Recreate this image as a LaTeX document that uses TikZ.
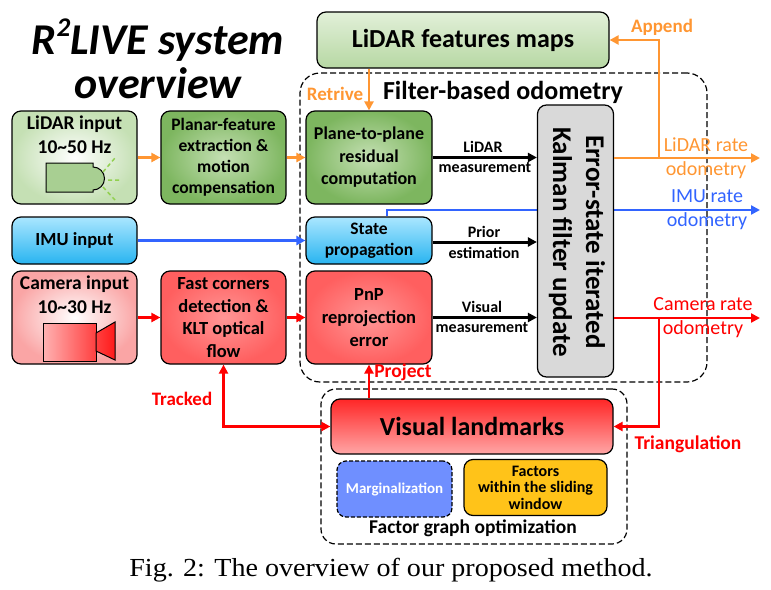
\documentclass[tikz,border=0pt]{standalone}
\usepackage{graphicx}
\usepackage{fontspec}
\setmainfont{Carlito}
\newfontfamily\capfont{Liberation Serif}
\usetikzlibrary{arrows.meta}
\definecolor{lorange}{RGB}{255,150,50}
\definecolor{lblue}{RGB}{50,100,255}
\definecolor{lred}{RGB}{255,0,0}
\definecolor{gnlight}{RGB}{226,240,217}
\definecolor{gnmid}{RGB}{197,224,180}
\definecolor{gndark}{RGB}{125,182,95}
\definecolor{bltop}{RGB}{170,230,255}
\definecolor{blbot}{RGB}{40,180,240}
\definecolor{rdlight}{RGB}{250,165,165}
\definecolor{rdmid}{RGB}{255,150,150}
\definecolor{rddark}{RGB}{255,95,95}
\definecolor{margblue}{RGB}{111,143,255}
\definecolor{facgold}{RGB}{255,195,25}
\definecolor{raygreen}{RGB}{146,208,80}
\newcommand{\setfs}[2]{\fontsize{#1}{#2}\selectfont}

\begin{document}
\begin{tikzpicture}[x=1pt,y=-1pt,
  box/.style={draw,line width=1.2pt,rounded corners=9pt,align=center,inner sep=0pt},
  dashbox/.style={draw,line width=1.2pt,dash pattern=on 6pt off 3pt},
  arr/.style={line width=2.4pt,-{Triangle[length=9pt,width=9pt]}},
  lab/.style={inner sep=0pt,align=center,font=\setfs{16}{21}\bfseries}]
\useasboundingbox (0,0) rectangle (771,589);

\node[font=\setfs{44}{39}\bfseries\itshape] (title1) at (158,40) {R\raisebox{0.42em}{\setfs{27}{27}2}LIVE system};
\node[font=\setfs{44}{39}\bfseries\itshape] (title2) at (158,83) {overview};

\node[dashbox,rounded corners=20pt,minimum width=407pt,minimum height=309pt] (filt) at (503.5,227.5) {};
\node[font=\setfs{26}{30}\bfseries] (filttxt) at (503,92) {Filter-based odometry};
\node[dashbox,rounded corners=15pt,minimum width=306pt,minimum height=155pt] (fgo) at (474,466.5) {};
\node[font=\setfs{19.5}{24}\bfseries] (fgotxt) at (473,528) {Factor graph optimization};

\node[box,minimum width=292pt,minimum height=56pt,top color=gnlight,bottom color=gnmid!80!gndark,font=\setfs{26}{30}\bfseries] (maps) at (463,40) {LiDAR features maps};
\node[box,minimum width=125pt,minimum height=93pt,inner color=white,outer color=gnmid] (lidin) at (74.5,157.5) {};
\node[box,minimum width=125pt,minimum height=93pt,inner color=gnmid,outer color=gndark,font=\setfs{17.5}{21}\bfseries] (planar) at (223.5,157.5) {Planar-feature\\extraction \&\\motion\\compensation};
\node[box,minimum width=126pt,minimum height=93pt,inner color=gnmid,outer color=gndark,font=\setfs{18}{22.5}\bfseries] (plane) at (369,157.5) {Plane-to-plane\\residual\\computation};
\node[box,minimum width=125pt,minimum height=47pt,top color=bltop,bottom color=blbot,font=\setfs{18.5}{22}\bfseries] (imuin) at (74.5,240.5) {IMU input};
\node[box,minimum width=126pt,minimum height=47pt,top color=bltop,bottom color=blbot,font=\setfs{17.5}{21}\bfseries] (state) at (369,240.5) {State\\propagation};
\node[box,minimum width=125pt,minimum height=93pt,inner color=white,outer color=rdlight] (camin) at (74.5,317.5) {};
\node[box,minimum width=125pt,minimum height=93pt,inner color=rdmid,outer color=rddark,font=\setfs{18.5}{22.5}\bfseries] (fast) at (223.5,317.5) {Fast corners\\detection \&\\KLT optical\\flow};
\node[box,minimum width=126pt,minimum height=93pt,inner color=rdmid,outer color=rddark,font=\setfs{18.5}{23}\bfseries] (pnp) at (369,317.5) {PnP\\reprojection\\error};
\node[box,minimum width=282pt,minimum height=55pt,top color=red!85,bottom color=red!35,font=\setfs{26}{30}\bfseries] (vlm) at (472,426.5) {Visual landmarks};
\node[box,dash pattern=on 4pt off 2pt,minimum width=115pt,minimum height=56pt,fill=margblue,text=white,font=\setfs{15}{18}\bfseries] (marg) at (394.5,489) {Marginalization};
\node[box,minimum width=143pt,minimum height=56pt,fill=facgold,font=\setfs{16}{16.5}\bfseries] (fac) at (535.5,487.5) {Factors\\within the sliding\\window};

\node[anchor=north,inner sep=0pt,align=center,font=\setfs{19.5}{24}\bfseries] (lidtxt) at (74.5,116) {LiDAR input\\10\char`~50 Hz};
\draw[line width=1pt,fill=gnmid!60!gndark] (46,163) -- (93,163) -- (93,167) arc[start angle=-90,end angle=90,radius=11.5] -- (93,192) -- (46,192) -- cycle;
\draw[line width=1.5pt,raygreen,dash pattern=on 4pt off 3pt] (103,172) -- (115,158) (108,180) -- (119,180) (103,187) -- (115,200);
\node[anchor=north,inner sep=0pt,align=center,font=\setfs{19.5}{24}\bfseries] (camtxt) at (74.5,276) {Camera input\\10\char`~30 Hz};
\draw[line width=1pt,left color=red!30,right color=red!75] (43,323) rectangle (96,361);
\draw[line width=1pt,left color=red!75,right color=red!90] (96,333) -- (115,322) -- (115,360) -- (96,351) -- cycle;

\coordinate (imuout) at (760,210);
\draw[line width=2.4pt,lblue,-{Triangle[length=9pt,width=9pt]}] ([xshift=18pt]state.north) -- ([xshift=18pt]state.north |- imuout) -- (imuout);
\node[box,minimum width=76pt,minimum height=272pt,fill=black!15] (ekf) at (575.5,241) {};
\node[rotate=-90,align=center,inner sep=0pt,font=\setfs{27}{33}\bfseries] (ekftxt) at (577,242) {Error-state iterated\\Kalman filter update};

\draw[arr,lorange] (maps.south -| plane.north) -- (plane.north);
\draw[arr,lorange] (lidin.east) -- (planar.west);
\draw[arr,lorange] (planar.west -| planar.east) -- (plane.west);
\draw[arr,lblue] (imuin.east) -- (state.west);
\draw[arr,lred] (camin.east) -- (fast.west);
\draw[arr,lred] (fast.east) -- (pnp.west);

\draw[arr,black,line width=3pt] (plane.east) -- (plane.east -| ekf.west);
\draw[arr,black,line width=3pt] ([yshift=-1.5pt]state.east) -- ([yshift=-1.5pt]state.east -| ekf.west);
\draw[arr,black,line width=3pt] (pnp.east) -- (pnp.east -| ekf.west);
\node[lab] (l1) at (483,147) {LiDAR};
\node[lab] (l2) at (485,168) {measurement};
\node[lab] (l3) at (484,232) {Prior};
\node[lab] (l4) at (484,253) {estimation};
\node[lab] (l5) at (482,307) {Visual};
\node[lab] (l6) at (482,328) {measurement};

\coordinate (lidout) at (760,158);
\coordinate (camout) at (760,318);
\coordinate (appnd) at (659,158);
\coordinate (trian) at (659,318);
\draw[arr,lorange] (ekf.east |- lidout) -- (lidout);
\draw[arr,lorange] (appnd) -- (appnd |- maps.east) -- (maps.east);
\draw[arr,lred] (ekf.east |- camout) -- (camout);
\draw[arr,lred] (trian) -- (trian |- vlm.east) -- (vlm.east);
\draw[arr,lred] (pnp.south |- vlm.north) -- (pnp.south);
\draw[line width=2.4pt,lred,{Triangle[length=9pt,width=9pt]}-{Triangle[length=9pt,width=9pt]}] (fast.south) -- (fast.south |- vlm.west) -- (vlm.west);

\node[text=lorange,font=\setfs{19}{23}\bfseries] (retr) at (335,94) {Retrive};
\node[text=lorange,font=\setfs{19}{23}\bfseries] (app) at (662,27) {Append};
\node[text=lred,font=\setfs{19}{23}\bfseries] (trk) at (182,399) {Tracked};
\node[text=lred,font=\setfs{19.5}{23}\bfseries] (prj) at (403,372) {Project};
\node[text=lred,font=\setfs{19.5}{23}\bfseries] (tri) at (688,444) {Triangulation};
\node[text=lorange,align=center,inner sep=0pt,font=\setfs{20}{24}] (lidrate) at (706,158) {LiDAR rate\\odometry};
\node[text=lblue,align=center,inner sep=0pt,font=\setfs{20}{24}] (imurate) at (707,210) {IMU rate\\odometry};
\node[text=lred,align=center,inner sep=0pt,font=\setfs{20}{24}] (camrate) at (703,318) {Camera rate\\odometry};

\node[font=\capfont\setfs{26}{30}] (cap) at (391,570) {\scalebox{1.08}[1]{Fig. 2: The overview of our proposed method.}};
\end{tikzpicture}
\end{document}
